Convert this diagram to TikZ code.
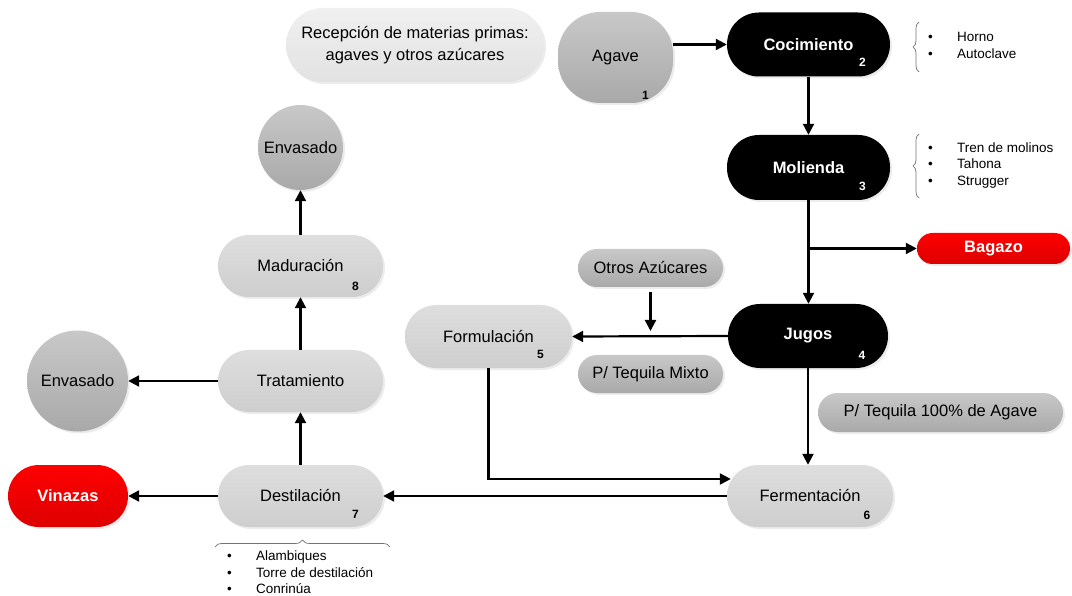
\documentclass[tikz,border=0pt]{standalone}
\usepackage{fontspec}
\setmainfont{Liberation Sans}
\usetikzlibrary{arrows.meta,shadows,decorations.pathreplacing,calc}
\definecolor{dkA}{HTML}{C8C8C8}
\definecolor{dkB}{HTML}{A9A9A9}
\definecolor{ltA}{HTML}{DEDEDE}
\definecolor{ltB}{HTML}{CECECE}
\definecolor{vlA}{HTML}{F0F0F0}
\definecolor{vlB}{HTML}{E2E2E2}
\definecolor{rdA}{HTML}{FF0000}
\definecolor{rdB}{HTML}{DD0000}
\begin{document}
\begin{tikzpicture}[x=1pt,y=-1pt,
  base/.style={rectangle, inner sep=0pt, font=\fontsize{16.5}{22}\selectfont,
    drop shadow={shadow xshift=2pt,shadow yshift=-2pt,fill=black!15}},
  darkn/.style={base, top color=dkA, bottom color=dkB},
  lightn/.style={base, top color=ltA, bottom color=ltB},
  paleN/.style={base, top color=vlA, bottom color=vlB},
  blackn/.style={base, fill=black, text=white, font=\bfseries\fontsize{16.5}{20}\selectfont},
  redn/.style={base, top color=rdA, bottom color=rdB, text=white, font=\bfseries\fontsize{16.5}{20}\selectfont},
  num/.style={inner sep=0pt, font=\bfseries\fontsize{12}{12}\selectfont},
  lst/.style={inner sep=0pt, anchor=base west, font=\fontsize{13.5}{17}\selectfont},
  arr/.style={line width=2.2pt, -{Triangle[length=11pt,width=11pt]}},
  brc/.style={draw=black!55, line width=0.7pt, decorate},
]
\useasboundingbox (0,0) rectangle (1072,596);

% nodes
\node[paleN, minimum width=258pt, minimum height=74pt, rounded corners=37pt, align=center] (rec) at (415,45)
  {Recepción de materias primas:\\agaves y otros azúcares};
\node[darkn, minimum width=115pt, minimum height=91pt, rounded corners=42pt] (agave) at (615.5,57.5) {Agave};
\node[blackn, minimum width=163pt, minimum height=64pt, rounded corners=32pt] (coc) at (808.5,44.5) {Cocimiento};
\node[blackn, minimum width=163pt, minimum height=65pt, rounded corners=32pt] (mol) at (808.5,167.5) {Molienda};
\node[redn, minimum width=153pt, minimum height=31pt, rounded corners=15.5pt] (bag) at (993.5,248.5) {Bagazo};
\node[blackn, minimum width=160pt, minimum height=64pt, rounded corners=32pt] (jug) at (808,336) {Jugos};
\node[darkn, minimum width=145pt, minimum height=38pt, rounded corners=19pt] (otros) at (650.5,268) {Otros Azúcares};
\node[darkn, minimum width=145pt, minimum height=38pt, rounded corners=19pt] (mixto) at (650.5,374) {P/ Tequila Mixto};
\node[darkn, minimum width=245pt, minimum height=39pt, rounded corners=19.5pt] (cien) at (940.5,412.5) {P/ Tequila 100\% de Agave};
\node[lightn, minimum width=167pt, minimum height=63pt, rounded corners=31.5pt] (form) at (488.5,336.5) {Formulación};
\node[lightn, minimum width=166pt, minimum height=62pt, rounded corners=31pt] (ferm) at (810,496) {Fermentación};
\node[lightn, minimum width=165pt, minimum height=62pt, rounded corners=31pt] (dest) at (300.5,496) {Destilación};
\node[lightn, minimum width=165pt, minimum height=62pt, rounded corners=31pt] (trat) at (300.5,381) {Tratamiento};
\node[lightn, minimum width=165pt, minimum height=62pt, rounded corners=31pt] (mad) at (300.5,266) {Maduración};
\node[redn, minimum width=120pt, minimum height=62pt, rounded corners=31pt] (vin) at (68,496) {Vinazas};
\node[darkn, circle, minimum size=85pt] (env1) at (300.5,147.5) {Envasado};
\node[darkn, circle, minimum size=101pt] (env2) at (77.5,381) {Envasado};

% numbers
\node[num] (n1) at ([shift={(30,38)}]agave.center) {1};
\node[num, text=white] (n2) at ([shift={(54,18)}]coc.center) {2};
\node[num, text=white] (n3) at ([shift={(54,19)}]mol.center) {3};
\node[num, text=white] (n4) at ([shift={(54,19)}]jug.center) {4};
\node[num] (n5) at ([shift={(52,18)}]form.center) {5};
\node[num] (n6) at ([shift={(57,19)}]ferm.center) {6};
\node[num] (n7) at ([shift={(55,18)}]dest.center) {7};
\node[num] (n8) at ([shift={(55,20)}]mad.center) {8};

% connectors
\draw[arr] (agave.east |- coc.west) -- (coc.west);
\draw[arr] (coc.south) -- (mol.north);
\draw[arr] (mol.south) -- (jug.north -| mol.south);
\coordinate (br) at (mol.south |- bag.west);
\draw[arr] (br) -- (bag.west);
\draw[arr] (jug.west) -- (form.east);
\coordinate (oa) at ([yshift=-5pt]otros.south);
\coordinate (ob) at ([yshift=5pt]otros.south |- jug.west);
\draw[arr] (oa) -- (ob);
\draw[arr] (jug.south) -- (ferm.north -| jug.south);
\coordinate (fe) at ([shift={(4,-17)}]ferm.west);
\draw[arr] (form.south) |- (fe);
\draw[arr] (ferm.west) -- (dest.east);
\draw[arr] (dest.west) -- (vin.east);
\draw[arr] (dest.north) -- (trat.south);
\draw[arr] (trat.west) -- (env2.east);
\draw[arr] (trat.north) -- (mad.south);
\draw[arr] (mad.north) -- (env1.south);

% braces and lists
\draw[brc, decoration={brace, amplitude=6pt}] (919,72) -- (919,22);
\node[lst] (h1) at (928,42) {\makebox[29pt][l]{•}Horno};
\node[lst] (h2) at (928,58.5) {\makebox[29pt][l]{•}Autoclave};
\draw[brc, decoration={brace, amplitude=6pt}] (919,198) -- (919,134);
\node[lst] (m1) at (928,152.5) {\makebox[29pt][l]{•}Tren de molinos};
\node[lst] (m2) at (928,169) {\makebox[29pt][l]{•}Tahona};
\node[lst] (m3) at (928,185.5) {\makebox[29pt][l]{•}Strugger};
\draw[brc, decoration={brace, amplitude=7pt}] (215,547) -- (390,547);
\node[lst] (d1) at (227,560) {\makebox[29pt][l]{•}Alambiques};
\node[lst] (d2) at (227,577) {\makebox[29pt][l]{•}Torre de destilación};
\node[lst] (d3) at (227,593) {\makebox[29pt][l]{•}Conrinúa};
\end{tikzpicture}
\end{document}
